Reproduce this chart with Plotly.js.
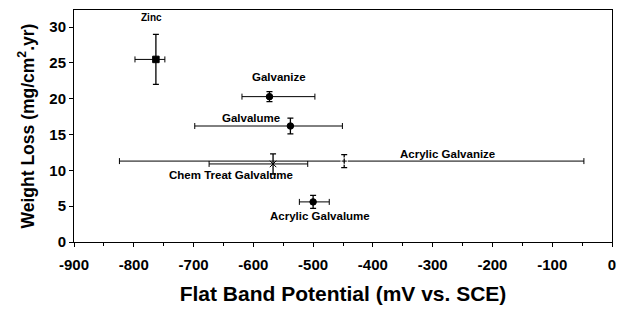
<!DOCTYPE html>
<html><head><meta charset="utf-8">
<script src="https://cdn.plot.ly/plotly-3.0.1.min.js"></script>
<style>body{margin:0;background:#fff}#c{width:627px;height:316px}</style>
</head><body><div id="c"></div>
<script>
const labels = ["Zinc","Galvanize","Galvalume","Chem Treat Galvalume","Acrylic Galvanize","Acrylic Galvalume"];
const potential = [-763, -573, -538, -567, -448, -500];
const potentialErrPlus = [15, 76, 87, 58, 401, 27];
const potentialErrMinus = [35, 46, 160, 107, 376, 23];
const weightLoss = [25.5, 20.3, 16.2, 10.9, 11.3, 5.6];
const weightErr = [3.5, 0.7, 1.1, 1.4, 0.9, 0.9];
const labelX = [-771, -557, -604, -637, -275, -489];
const labelY = [31.4, 23.1, 17.3, 9.4, 12.3, 3.6];
const labelSizes = [10, 11.5, 11.5, 11.5, 11.5, 11.5];
const xTickVals = [-900, -800, -700, -600, -500, -400, -300, -200, -100, 0];
const xTickText = ["-900", "-800", "-700", "-600", "-500", "-400", "-300", "-200", "-100", "0"];
const symbols = ["square","circle","circle","x-thin-open","circle-open","circle"];
const markerColors = ["#000","#000","#000","#000","#fff","#000"];

const trace = {
  x: potential, y: weightLoss, type: 'scatter', mode: 'markers',
  marker: {symbol: symbols, size: 6.5, color: markerColors, line: {color: '#000', width: 1}},
  error_x: {type: 'data', symmetric: false, array: potentialErrPlus, arrayminus: potentialErrMinus, color: '#000', thickness: 1, width: 3},
  error_y: {type: 'data', array: weightErr, color: '#000', thickness: 1.3, width: 3},
  hoverinfo: 'skip'
};

const FAM = 'Liberation Sans, Arial, sans-serif';
const annotations = labels.map((t, i) => ({
  x: labelX[i], y: labelY[i], xref: 'x', yref: 'y', text: t, showarrow: false,
  font: {family: FAM, size: labelSizes[i], color: '#000', weight: 'bold'}
}));

const layout = {
  width: 627, height: 316,
  margin: {l: 74, r: 15, t: 10, b: 74},
  paper_bgcolor: '#fff', plot_bgcolor: '#fff',
  showlegend: false,
  font: {family: FAM, color: '#000'},
  xaxis: {
    range: [-900, 0], tickvals: xTickVals, ticktext: xTickText,
    ticks: 'outside', ticklen: 4, tickcolor: '#000', ticklabelstandoff: 5,
    minor: {dtick: 50, ticks: 'outside', ticklen: 3, tickcolor: '#000'},
    showgrid: false, zeroline: false,
    showline: true, linecolor: '#000', linewidth: 1, mirror: true,
    tickfont: {family: FAM, size: 15, color: '#000', weight: 'bold'},
    title: {text: 'Flat Band Potential (mV vs. SCE)', standoff: 14,
      font: {family: FAM, size: 21, color: '#000', weight: 'bold'}}
  },
  yaxis: {
    range: [0, 32.4], dtick: 5, tick0: 0,
    ticks: 'outside', ticklen: 4, tickcolor: '#000',
    showgrid: false, zeroline: false,
    showline: true, linecolor: '#000', linewidth: 1, mirror: true,
    tickfont: {family: FAM, size: 15, color: '#000', weight: 'bold'},
    title: {text: 'Weight Loss (mg/cm<sup>2</sup>.yr)', standoff: 10,
      font: {family: FAM, size: 17.5, color: '#000', weight: 'bold'}}
  },
  annotations: annotations
};
Plotly.newPlot('c', [trace], layout, {displayModeBar: false, staticPlot: true});
</script></body></html>
